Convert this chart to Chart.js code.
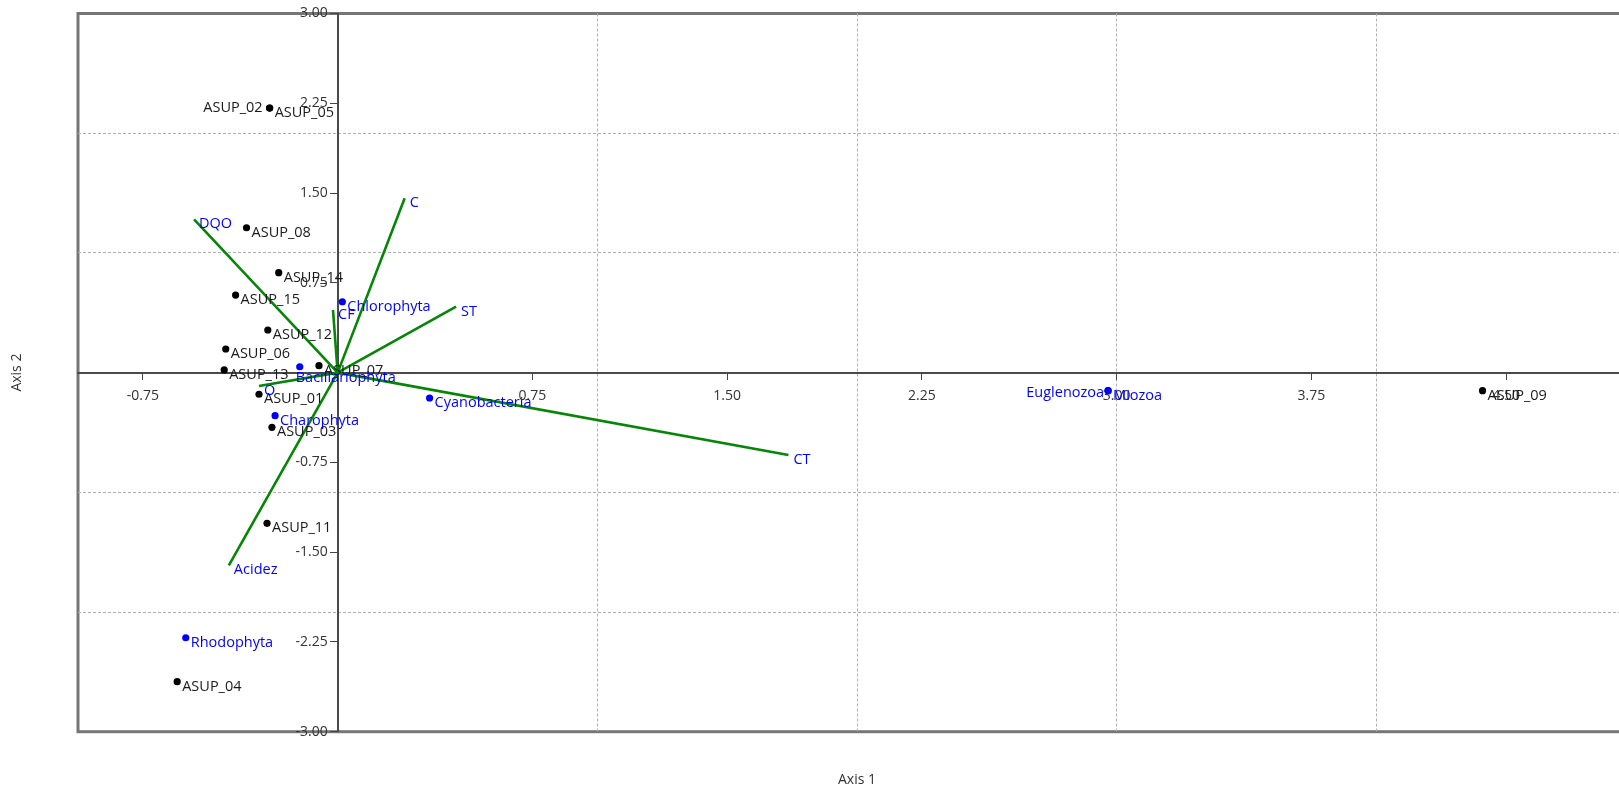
<!DOCTYPE html>
<html><head><meta charset="utf-8">
<script src="https://cdn.jsdelivr.net/npm/chart.js@4.4.1/dist/chart.umd.min.js"></script>
<style>
html,body{margin:0;padding:0;overflow:hidden;background:#fff;width:1619px;height:788px}
#wrap{width:1619px;height:788px;overflow:hidden}
canvas{display:block}
</style></head><body>
<div id="wrap"><canvas id="c" width="1640" height="788"></canvas></div>
<script>
// ---- data ----
const sampleNames = ['ASUP_01','ASUP_02','ASUP_03','ASUP_04','ASUP_05','ASUP_06','ASUP_07','ASUP_08','ASUP_09','ASUP_11','ASUP_12','ASUP_13','ASUP_14','ASUP_15'];
const sampleX = [-0.303,-0.262,-0.253,-0.618,-0.262,-0.431,-0.072,-0.351,4.409,-0.272,-0.269,-0.437,-0.227,-0.393];
const sampleY = [-0.181, 2.210,-0.457,-2.582, 2.210, 0.197, 0.058, 1.210,-0.151,-1.259, 0.356, 0.022, 0.835, 0.648];

const taxaNames = ['Bacillariophyta','Charophyta','Chlorophyta','Cyanobacteria','Euglenozoa','Miozoa','Rhodophyta'];
const taxaX = [-0.146,-0.241, 0.018, 0.354, 2.967, 2.967,-0.585];
const taxaY = [ 0.049,-0.360, 0.592,-0.212,-0.151,-0.151,-2.215];

const vectorNames = ['DQO','C','ST','CF','O','CT','Acidez'];
const vectorX = [-0.553, 0.258, 0.456,-0.018,-0.303, 1.736,-0.419];
const vectorY = [ 1.281, 1.456, 0.551, 0.523,-0.112,-0.688,-1.610];

const xTickValues = [-0.75, 0.75, 1.50, 2.25, 3.00, 3.75, 4.50];
const yTickValues = [3.00, 2.25, 1.50, 0.75, -0.75, -1.50, -2.25, -3.00];
const xGridValues = [0, 1, 2, 3, 4];
const yGridValues = [-2, -1, 0, 1, 2];
const xRange = [-1, 5];
const yRange = [-3, 3];
const xTitle = 'Axis 1';
const yTitle = 'Axis 2';

// ---- styles ----
const FONT = "'Open Sans', 'Noto Sans', sans-serif";
const GREEN = '#078507';
const BLUE = '#0000ff';
const labelPlace = {
  'ASUP_02': {align: 'right', dx: -7, dy: 0},
  'Euglenozoa': {align: 'right', dx: -4, dy: 2},
  'Bacillariophyta': {align: 'left', dx: -4, dy: 11}
};

const datasets = [];
datasets.push({
  label: 'samples', order: 0,
  data: sampleX.map((x, i) => ({x, y: sampleY[i]})),
  pointRadius: 3.6, pointBackgroundColor: '#000', pointBorderWidth: 0, showLine: false,
  names: sampleNames, textColor: '#1a1a1a'
});
datasets.push({
  label: 'taxa', order: 1,
  data: taxaX.map((x, i) => ({x, y: taxaY[i]})),
  pointRadius: 3.6, pointBackgroundColor: BLUE, pointBorderWidth: 0, showLine: false,
  names: taxaNames, textColor: BLUE
});
vectorNames.forEach((n, i) => {
  datasets.push({
    label: n, order: 2,
    data: [{x: 0, y: 0}, {x: vectorX[i], y: vectorY[i]}],
    showLine: true, borderColor: GREEN, borderWidth: 2.6, pointRadius: 0, fill: false,
    names: ['', n], textColor: BLUE, isVector: true
  });
});

const framePlugin = {
  id: 'frame',
  beforeDraw(chart) {
    const {ctx, chartArea: a} = chart;
    ctx.save();
    ctx.strokeStyle = '#767676';
    ctx.lineWidth = 3;
    ctx.strokeRect(a.left, a.top, a.right - a.left, a.bottom - a.top);
    ctx.restore();
    // the y axis sits at x = 0; keep its tick labels clear of the tick marks
    const ys = chart.scales.y;
    ys.getLabelItems(chart.chartArea).forEach(it => {
      if (!it._shifted) { it.options.translation[0] -= 10; it._shifted = true; }
    });
  }
};

const labelPlugin = {
  id: 'pointLabels',
  afterDatasetsDraw(chart) {
    const {ctx} = chart;
    const xs = chart.scales.x, ys = chart.scales.y;
    ctx.save();
    ctx.font = '14.5px ' + FONT;
    ctx.textBaseline = 'middle';
    chart.data.datasets.forEach(ds => {
      ds.data.forEach((p, i) => {
        const name = ds.names[i];
        if (!name) return;
        const px = xs.getPixelForValue(p.x), py = ys.getPixelForValue(p.y);
        const pl = labelPlace[name] || {align: 'left', dx: 5, dy: 5};
        ctx.fillStyle = ds.textColor;
        ctx.textAlign = pl.align;
        ctx.fillText(name, px + pl.dx, py + pl.dy);
      });
    });
    ctx.restore();
  }
};

new Chart(document.getElementById('c'), {
  type: 'scatter',
  data: {datasets},
  options: {
    responsive: false,
    animation: false,
    layout: {padding: {top: 13.5, right: 2, bottom: 0, left: 0}},
    plugins: {legend: {display: false}, tooltip: {enabled: false}},
    scales: {
      x2: {
        type: 'linear', position: 'bottom', min: xRange[0], max: xRange[1],
        afterBuildTicks: s => { s.ticks = xGridValues.map(v => ({value: v})); },
        ticks: {display: false},
        grid: {display: true, drawTicks: false, color: '#b0b0b0', lineWidth: 1},
        border: {display: false, dash: [3, 2]},
        title: {display: true, text: xTitle, color: '#333', font: {family: FONT, size: 14}, padding: {top: 39.5, bottom: 0}}
      },
      y2: {
        type: 'linear', position: 'left', min: yRange[0], max: yRange[1],
        afterBuildTicks: s => { s.ticks = yGridValues.map(v => ({value: v})); },
        ticks: {display: false},
        grid: {display: true, drawTicks: false, color: '#b0b0b0', lineWidth: 1},
        border: {display: false, dash: [3, 2]},
        title: {display: true, text: yTitle, color: '#333', font: {family: FONT, size: 14}, padding: {top: 8.6, bottom: 52.6}}
      },
      x: {
        type: 'linear', position: {y: 0}, min: xRange[0], max: xRange[1],
        afterBuildTicks: s => { s.ticks = xTickValues.map(v => ({value: v})); },
        ticks: {callback: v => v.toFixed(2), color: '#333', font: {family: FONT, size: 14}, autoSkip: false, maxRotation: 0, padding: 9},
        grid: {drawOnChartArea: false, drawTicks: true, tickLength: 6, color: '#444'},
        border: {display: true, color: '#4a4a4a', width: 2}
      },
      y: {
        type: 'linear', position: {x: 0}, min: yRange[0], max: yRange[1],
        afterBuildTicks: s => { s.ticks = yTickValues.map(v => ({value: v})); },
        ticks: {callback: v => v.toFixed(2), color: '#333', font: {family: FONT, size: 14}, autoSkip: false, padding: 3},
        grid: {drawOnChartArea: false, drawTicks: true, tickLength: 7, color: '#444'},
        border: {display: true, color: '#4a4a4a', width: 2}
      }
    }
  },
  plugins: [framePlugin, labelPlugin]
});
</script>
</body></html>
